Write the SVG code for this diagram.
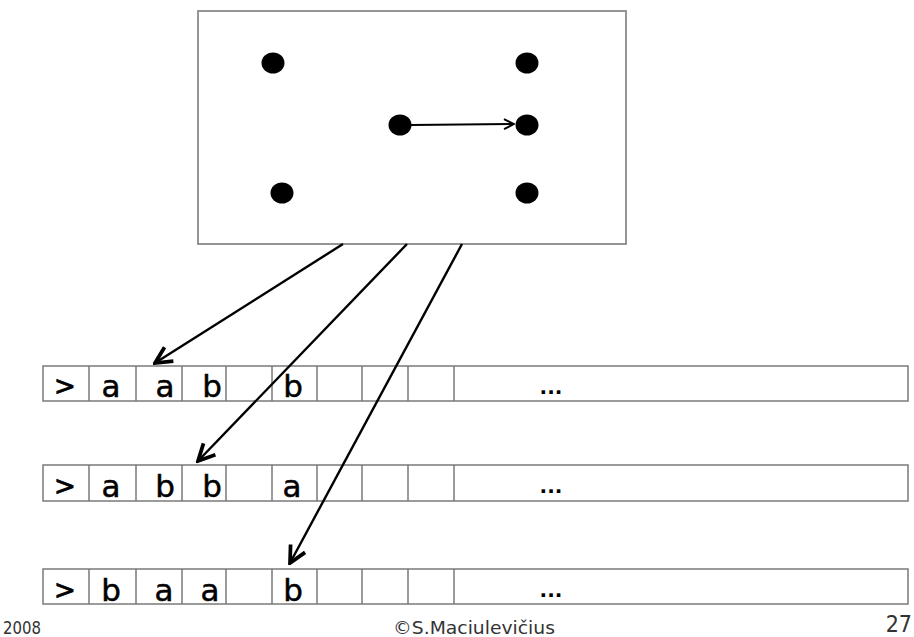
<svg xmlns="http://www.w3.org/2000/svg" width="914" height="637" viewBox="0 0 914 637">
  <style>
    .frame { fill: #fff; stroke: #8a8a8a; stroke-width: 1.8; }
    .cell { fill: #fff; stroke: #7a7a7a; stroke-width: 1.5; }
    .sym { font-family: "DejaVu Sans", sans-serif; font-size: 31px; fill: #000; stroke: #000; stroke-width: 0.5; text-anchor: middle; }
    .gt { font-size: 26px; stroke-width: 0.8; }
    .dots { font-family: "DejaVu Sans", sans-serif; font-size: 20px; font-weight: bold; fill: #000; text-anchor: middle; }
    .foot { font-family: "DejaVu Sans Condensed", "DejaVu Sans", sans-serif; font-size: 17px; fill: #333; }
    .state { fill: #000; }
    .link { stroke: #000; stroke-width: 2.4; fill: none; }
  </style>
  <defs>
    <marker id="head" viewBox="0 0 12 12" refX="11" refY="6" markerWidth="12" markerHeight="12" markerUnits="userSpaceOnUse" orient="auto">
      <path d="M1,1 L11,6 L1,11" fill="none" stroke="#000" stroke-width="2"/>
    </marker>
    <marker id="bighead" viewBox="0 0 20 20" refX="18" refY="10" markerWidth="22" markerHeight="22" markerUnits="userSpaceOnUse" orient="auto">
      <path d="M3,2.5 L18,10 L3,17.5" fill="none" stroke="#000" stroke-width="3.4" stroke-linejoin="miter"/>
    </marker>
  </defs>

  <!-- control unit with its states -->
  <g id="control">
    <rect class="frame" x="198" y="11" width="428" height="233"/>
    <ellipse class="state" cx="273" cy="63" rx="11.5" ry="10.5"/>
    <ellipse class="state" cx="527" cy="63" rx="11.5" ry="10.5"/>
    <ellipse class="state" cx="400" cy="125" rx="11.5" ry="10.5"/>
    <ellipse class="state" cx="527" cy="125" rx="11.5" ry="10.5"/>
    <ellipse class="state" cx="282" cy="193" rx="11.5" ry="10.5"/>
    <ellipse class="state" cx="527" cy="193" rx="11.5" ry="10.5"/>
    <line x1="411" y1="125" x2="514" y2="124" stroke="#000" stroke-width="2" marker-end="url(#head)"/>
  </g>

  <!-- tape 1 -->
  <g id="tape1">
    <rect class="cell" x="43" y="366" width="865" height="35"/>
    <path class="cell" d="M89,366V401M136,366V401M182,366V401M226,366V401M272,366V401M317,366V401M362,366V401M408,366V401M454,366V401"/>
    <text class="sym gt" x="65" y="395">&gt;</text>
    <text class="sym" x="111" y="397">a</text>
    <text class="sym" x="165" y="397">a</text>
    <text class="sym" x="212" y="397">b</text>
    <text class="sym" x="293" y="397">b</text>
    <text class="dots" x="551" y="394">...</text>
  </g>

  <!-- tape 2 -->
  <g id="tape2">
    <rect class="cell" x="43" y="465" width="865" height="36"/>
    <path class="cell" d="M89,465V501M136,465V501M182,465V501M226,465V501M272,465V501M317,465V501M362,465V501M408,465V501M454,465V501"/>
    <text class="sym gt" x="65" y="495">&gt;</text>
    <text class="sym" x="111" y="497">a</text>
    <text class="sym" x="165" y="497">b</text>
    <text class="sym" x="212" y="497">b</text>
    <text class="sym" x="292" y="497">a</text>
    <text class="dots" x="551" y="493">...</text>
  </g>

  <!-- tape 3 -->
  <g id="tape3">
    <rect class="cell" x="43" y="569" width="865" height="35"/>
    <path class="cell" d="M89,569V604M136,569V604M182,569V604M226,569V604M272,569V604M317,569V604M362,569V604M408,569V604M454,569V604"/>
    <text class="sym gt" x="65" y="599">&gt;</text>
    <text class="sym" x="111" y="601">b</text>
    <text class="sym" x="164" y="601">a</text>
    <text class="sym" x="210" y="601">a</text>
    <text class="sym" x="293" y="601">b</text>
    <text class="dots" x="551" y="597">...</text>
  </g>

  <!-- read/write heads -->
  <g id="connectors">
    <line class="link" x1="343" y1="244" x2="155" y2="363" marker-end="url(#bighead)"/>
    <line class="link" x1="407" y1="244" x2="198" y2="461" marker-end="url(#bighead)"/>
    <line class="link" x1="462" y1="244" x2="290" y2="563" marker-end="url(#bighead)"/>
  </g>

  <!-- footer -->
  <g id="footer">
    <text class="foot" x="3" y="634" style="font-size:18px" textLength="38" lengthAdjust="spacingAndGlyphs">2008</text>
    <text class="foot" x="393" y="634" textLength="162" lengthAdjust="spacingAndGlyphs">©S.Maciulevičius</text>
    <text class="foot" x="912" y="632" text-anchor="end" style="font-size:23px">27</text>
  </g>
</svg>
